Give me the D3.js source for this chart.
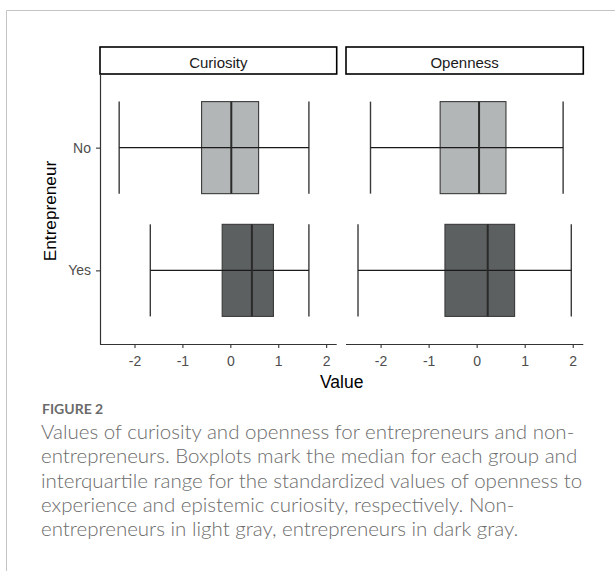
<!DOCTYPE html>
<html>
<head>
<meta charset="utf-8">
<script src="https://cdn.jsdelivr.net/npm/d3@7"></script>
<style>
  html, body { margin: 0; padding: 0; background: #fff; }
  svg { display: block; }
</style>
</head>
<body>
<svg id="chart" width="615" height="571"></svg>
<script>
// Facet panels and groups
const facets = ["Curiosity", "Openness"];
const groups = ["No", "Yes"];
// Five-number summaries per group: [whisker low, Q1, median, Q3, whisker high]
const curiosityValues = [
  [-2.32, -0.60, 0.02, 0.59, 1.64],
  [-1.67, -0.17, 0.45, 0.90, 1.64]
];
const opennessValues = [
  [-2.21, -0.76, 0.05, 0.61, 1.80],
  [-2.47, -0.66, 0.23, 0.79, 1.97]
];
const tickValues = [-2, -1, 0, 1, 2];
const groupFills = ["#b3b6b7", "#5d6061"];
const captionTitle = "FIGURE 2";
const captionLines = [
  "Values of curiosity and openness for entrepreneurs and non-",
  "entrepreneurs. Boxplots mark the median for each group and",
  "interquartile range for the standardized values of openness to",
  "experience and epistemic curiosity, respectively. Non-",
  "entrepreneurs in light gray, entrepreneurs in dark gray."
];

const facetValues = [curiosityValues, opennessValues];
const svg = d3.select("#chart");

// Outer figure frame (top and left rules)
svg.append("path")
  .attr("d", "M6.5,571 V10.5 H615")
  .attr("fill", "none")
  .attr("stroke", "#c4c4c4")
  .attr("stroke-width", 1);

const panelTop = 74, panelBottom = 344;
const panelX = [[100, 336.7], [346, 583.3]];
const domain = [-2.72, 2.22];
const axisFont = "'Liberation Sans', Arial, sans-serif";

const y = d3.scalePoint().domain(groups).range([panelTop, panelBottom]).padding(0.6);
const boxH = y.step() * 0.75;

facets.forEach((name, fi) => {
  const [x0, x1] = panelX[fi];
  const x = d3.scaleLinear().domain(domain).range([x0, x1]);
  const g = svg.append("g");

  // Strip header
  g.append("rect")
    .attr("x", x0).attr("y", 47)
    .attr("width", x1 - x0).attr("height", 27)
    .attr("fill", "#fff").attr("stroke", "#000").attr("stroke-width", 1.6);
  g.append("text")
    .attr("x", (x0 + x1) / 2).attr("y", 68.3)
    .attr("text-anchor", "middle")
    .attr("font-family", axisFont).attr("font-size", 15)
    .attr("fill", "#1a1a1a")
    .text(name);

  // Boxes
  facetValues[fi].forEach((v, gi) => {
    const cy = y(groups[gi]);
    const [lo, q1, med, q3, hi] = v;
    // whisker caps
    [lo, hi].forEach(w => {
      g.append("line")
        .attr("x1", x(w)).attr("x2", x(w))
        .attr("y1", cy - boxH / 2).attr("y2", cy + boxH / 2)
        .attr("stroke", "#3a3a3a").attr("stroke-width", 1.4);
    });
    g.append("rect")
      .attr("x", x(q1)).attr("y", cy - boxH / 2)
      .attr("width", x(q3) - x(q1)).attr("height", boxH)
      .attr("fill", groupFills[gi])
      .attr("stroke", "#3a3a3a").attr("stroke-width", 1.1);
    g.append("line")
      .attr("x1", x(lo)).attr("x2", x(hi))
      .attr("y1", cy).attr("y2", cy)
      .attr("stroke", "#1a1a1a").attr("stroke-width", 1.1);
    g.append("line")
      .attr("x1", x(med)).attr("x2", x(med))
      .attr("y1", cy - boxH / 2).attr("y2", cy + boxH / 2)
      .attr("stroke", "#2a2a2a").attr("stroke-width", 2);
  });

  // Bottom axis
  const ax = g.append("g")
    .attr("transform", `translate(0,${panelBottom})`)
    .call(d3.axisBottom(x).tickValues(tickValues).tickSize(4).tickPadding(8)
      .tickFormat(d => String(d)));
  ax.attr("font-family", axisFont).attr("font-size", 14);
  ax.select(".domain").attr("stroke", "#333").attr("stroke-width", 1.2)
    .attr("d", `M${x0},0.5H${x1}`);
  ax.selectAll(".tick line").attr("stroke", "#333").attr("stroke-width", 1.1);
  ax.selectAll(".tick text").attr("fill", "#4d4d4d");

  // Left axis only on first panel
  if (fi === 0) {
    const ay = g.append("g")
      .attr("transform", `translate(${x0},0)`)
      .call(d3.axisLeft(y).tickSize(4).tickPadding(5));
    ay.attr("font-family", axisFont).attr("font-size", 14);
    ay.select(".domain").attr("stroke", "#333").attr("stroke-width", 1.2)
      .attr("d", `M0.5,${panelTop}V${panelBottom + 0.6}`);
    ay.selectAll(".tick line").attr("stroke", "#333").attr("stroke-width", 1.1);
    ay.selectAll(".tick text").attr("fill", "#4d4d4d");
  }
});

// Axis titles
svg.append("text")
  .attr("x", (panelX[0][0] + panelX[1][1]) / 2).attr("y", 388)
  .attr("text-anchor", "middle")
  .attr("font-family", axisFont).attr("font-size", 17.5)
  .attr("fill", "#000")
  .text("Value");
svg.append("text")
  .attr("transform", `translate(55.5,${(panelTop + panelBottom) / 2 + 2}) rotate(-90)`)
  .attr("text-anchor", "middle")
  .attr("font-family", axisFont).attr("font-size", 17.2)
  .attr("fill", "#000")
  .text("Entrepreneur");

// Caption
const capFont = "Lato, 'Open Sans', sans-serif";
svg.append("text")
  .attr("x", 42).attr("y", 414)
  .attr("font-family", capFont).attr("font-size", 14).attr("font-weight", 700)
  .attr("fill", "#6b6b6b")
  .text(captionTitle);
svg.append("g").selectAll("text")
  .data(captionLines)
  .join("text")
  .attr("x", 41)
  .attr("y", (d, i) => 439 + i * 24.3)
  .attr("font-family", capFont).attr("font-size", 20.5).attr("font-weight", 300)
  .attr("fill", "#6b6b6b")
  .text(d => d);
</script>
</body>
</html>
